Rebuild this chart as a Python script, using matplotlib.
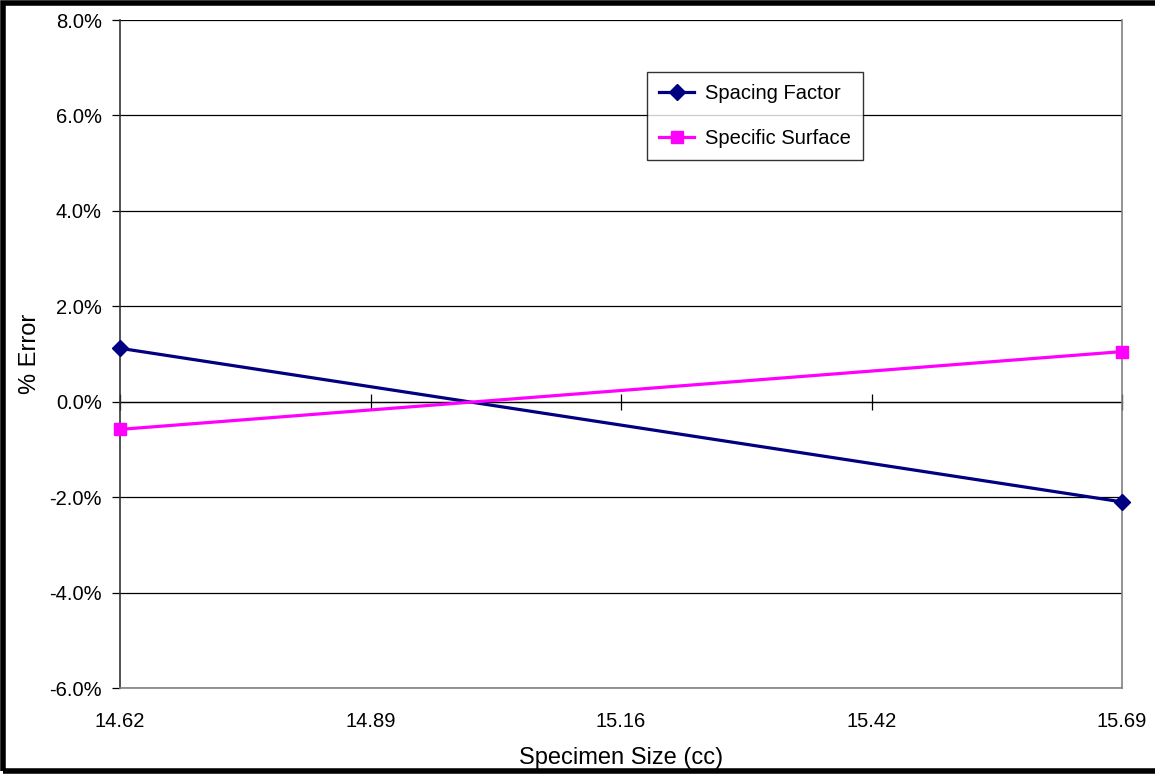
import matplotlib
matplotlib.use("Agg")
import matplotlib.pyplot as plt
from matplotlib.patches import Rectangle
from matplotlib.ticker import FuncFormatter, MultipleLocator

plt.rcParams['font.family'] = ['Liberation Sans', 'DejaVu Sans']

# data
specimen_size = [14.62, 15.69]
spacing_factor = [0.0112, -0.0210]
specific_surface = [-0.0058, 0.0105]
x_ticks = [14.62, 14.8875, 15.155, 15.4225, 15.69]
x_tick_labels = ['14.62', '14.89', '15.16', '15.42', '15.69']

fig = plt.figure(figsize=(11.55, 7.74), dpi=100)
ax = fig.add_axes([120 / 1155, 86 / 774, 1002 / 1155, 668 / 774])

ax.plot(specimen_size, spacing_factor, color='#000080', lw=2.3,
        marker='D', ms=8.5, label='Spacing Factor', clip_on=False, zorder=5)
ax.plot(specimen_size, specific_surface, color='#FF00FF', lw=2.3,
        marker='s', ms=8.5, label='Specific Surface', clip_on=False, zorder=5)

ax.set_xlim(14.62, 15.69)
ax.set_ylim(-0.06, 0.08)
ax.yaxis.set_major_locator(MultipleLocator(0.02))
ax.yaxis.set_major_formatter(FuncFormatter(lambda v, p: f'{v * 100:.1f}%'))
ax.grid(axis='y', color='black', lw=0.9)
ax.set_axisbelow(True)

ax.set_xticks(x_ticks)
ax.set_xticklabels(x_tick_labels)
ax.tick_params(axis='x', length=0, pad=17, labelsize=14.5)
ax.tick_params(axis='y', direction='out', length=6, width=0.9,
               labelsize=14.5, pad=7)

ax.spines['top'].set_visible(False)
ax.spines['left'].set_color('#333333')
ax.spines['right'].set_color('#808080')
ax.spines['bottom'].set_color('#808080')
for s in ['left', 'right', 'bottom']:
    ax.spines[s].set_linewidth(1.2)

# x axis line crossing at zero with tick marks
zero_axis = ax.secondary_xaxis(0, transform=ax.transData)
zero_axis.set_xticks(x_ticks)
zero_axis.tick_params(axis='x', direction='inout', length=12, width=0.9,
                      labelbottom=False, color='black')
zero_axis.spines['bottom'].set_color('black')
zero_axis.spines['bottom'].set_linewidth(0.9)

ax.set_xlabel('Specimen Size (cc)', fontsize=17, labelpad=11.5)
ax.set_ylabel('% Error', fontsize=17, labelpad=6)

leg = ax.legend(loc='upper left', bbox_to_anchor=(0.526, 0.922),
                fontsize=14.5, frameon=True, fancybox=False,
                edgecolor='black', borderpad=0.6, labelspacing=1.3,
                handlelength=1.75, handletextpad=0.55, borderaxespad=0)
leg.get_frame().set_linewidth(1.0)

# chart outer border
fig.patches.append(Rectangle((3 / 1155, 3 / 774), 1.2, 768 / 774,
                             transform=fig.transFigure, fill=False,
                             edgecolor='black', lw=4))

fig.savefig('out.png', dpi=100)
